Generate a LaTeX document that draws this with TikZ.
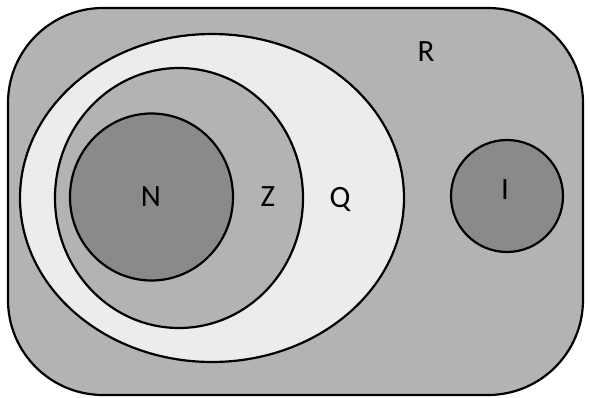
\documentclass[tikz,border=0pt]{standalone}
\usepackage{fontspec}
\setmainfont{Carlito}
\definecolor{midgray}{RGB}{179,179,179}
\definecolor{lightgray}{RGB}{236,236,236}
\definecolor{darkgray}{RGB}{138,138,138}
\begin{document}
\begin{tikzpicture}[x=1pt,y=-1pt,
  setline/.style={draw=black,line width=2.2pt},
  lbl/.style={font=\fontsize{31}{34}\selectfont,text=black,inner sep=0pt}]
\useasboundingbox (0,0) rectangle (590,398);
% real numbers
\path[setline,fill=midgray,rounded corners=95pt] (8,8) rectangle (583,395);
\node[lbl] (R) at (426,52) {R};
% rationals, integers, naturals
\path[setline,fill=lightgray] (212,198) ellipse [x radius=192, y radius=164];
\path[setline,fill=midgray] (179,198) ellipse [x radius=124, y radius=130];
\path[setline,fill=darkgray] (151.5,197) ellipse [x radius=81.5, y radius=83.5];
% irrationals
\path[setline,fill=darkgray] (507,196) circle [radius=56];
\node[lbl] (N) at (151,197) {N};
\node[lbl] (Z) at (268,197) {Z};
\node[lbl] (Q) at (340,199) {Q};
\node[lbl] (I) at (505,190) {I};
\end{tikzpicture}
\end{document}
